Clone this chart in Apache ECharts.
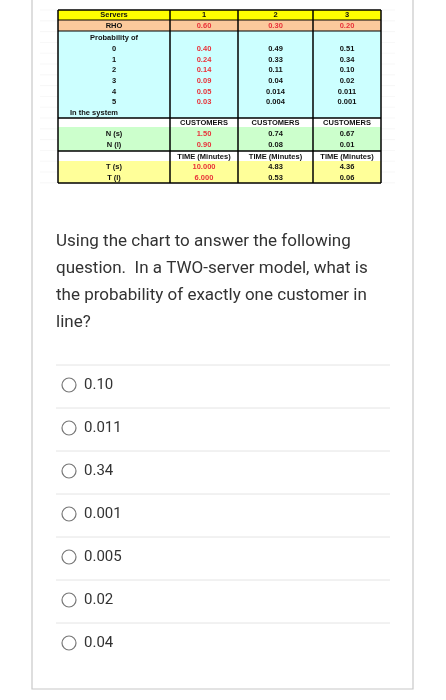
<!DOCTYPE html>
<html><head><meta charset="utf-8">
<script src="https://cdn.jsdelivr.net/npm/echarts@6/dist/echarts.min.js"></script>
<style>html,body{margin:0;padding:0;background:#fff}#c{width:446px;height:700px}</style>
</head><body><div id="c"></div>
<script>
const servers = ['1','2','3'];
const rho = ['0.60','0.30','0.20'];
const probLabels = ['0','1','2','3','4','5'];
const probs = [
  ['0.40','0.24','0.14','0.09','0.05','0.03'],
  ['0.49','0.33','0.11','0.04','0.014','0.004'],
  ['0.51','0.34','0.10','0.02','0.011','0.001']
];
const custLabels = ['N (s)','N (l)'];
const cust = [['1.50','0.90'],['0.74','0.08'],['0.67','0.01']];
const timeLabels = ['T (s)','T (l)'];
const times = [['10.000','6.000'],['4.83','0.53'],['4.36','0.06']];
const question = ['Using the chart to answer the following','question.  In a TWO-server model, what is','the probability of exactly one customer in','line?'];
const options = ['0.10','0.011','0.34','0.001','0.005','0.02','0.04'];

const chart = echarts.init(document.getElementById('c'));
const g = [];
const colX = [58,170,238,313,381];
const cx = i => (colX[i]+colX[i+1])/2;
const F = 'bold 7.5px "Liberation Sans", Arial, sans-serif';
const RED = '#e8333a';
function rect(x,y,w,h,fill){g.push({type:'rect',shape:{x,y,width:w,height:h},style:{fill},silent:true});}
function line(x1,y1,x2,y2,w,c){g.push({type:'line',shape:{x1,y1,x2,y2},style:{stroke:c||'#000',lineWidth:w||1},silent:true});}
function txt(x,y,t,color,font,align){g.push({type:'text',x,y,style:{text:t,fill:color||'#111',font:font||F,align:align||'center',verticalAlign:'middle'},silent:true});}

// card
g.push({type:'rect',shape:{x:32,y:-5,width:381,height:694},style:{fill:'#fff',stroke:'#c8c8c8',lineWidth:1.2},silent:true});
// faint grid
for(let y=10;y<190;y+=10.8) line(40,y,395,y,0.5,'#eee');
// backgrounds
rect(58,10,323,10,'#ffff00');
rect(58,20,323,11,'#fcc99c');
rect(58,31,323,87,'#ccffff');
rect(58,118,323,9,'#ffffff');
rect(58,127,323,24,'#ccffcc');
rect(58,151,323,10,'#ffffff');
rect(58,161,323,22,'#ffff99');
// borders
line(58,10,381,10,1.5); line(58,183,381,183,1.5);
line(58,20,381,20,1); line(58,31,381,31,1);
line(58,118,381,118,1.5); line(58,151,381,151,1.5);
colX.forEach(x=>line(x,10,x,183,1.5));
// header
txt(cx(0),15,'Servers');
servers.forEach((s,i)=>txt(cx(i+1),15,s));
txt(cx(0),25.5,'RHO');
rho.forEach((s,i)=>txt(cx(i+1),25.5,s,RED));
txt(cx(0),38,'Probability of');
const py=[49,59.5,70,81,91.5,102];
probLabels.forEach((l,j)=>txt(cx(0),py[j],l));
probs.forEach((col,i)=>col.forEach((v,j)=>txt(cx(i+1),py[j],v,i===0?RED:'#111')));
txt(cx(0)-20,112.5,'In the system');
servers.forEach((s,i)=>txt(cx(i+1),123,'CUSTOMERS'));
custLabels.forEach((l,j)=>txt(cx(0),134+j*11,l));
cust.forEach((col,i)=>col.forEach((v,j)=>txt(cx(i+1),134+j*10.5,v,i===0?RED:'#111')));
servers.forEach((s,i)=>txt(cx(i+1),156.5,'TIME (Minutes)'));
timeLabels.forEach((l,j)=>txt(cx(0),167+j*10.5,l));
times.forEach((col,i)=>col.forEach((v,j)=>txt(cx(i+1),167+j*10.5,v,i===0?RED:'#111')));
// question
question.forEach((q,k)=>txt(56,242+k*27,q,'#333','17px Roboto, "Noto Sans", sans-serif','left'));
// options
line(56,365,390,365,1,'#e4e4e4');
options.forEach((o,k)=>{
  const y=385+k*43;
  g.push({type:'circle',shape:{cx:69,cy:y,r:7},style:{fill:'#fff',stroke:'#777',lineWidth:1.2},silent:true});
  txt(84,y,o,'#333','15px Roboto, "Noto Sans", sans-serif','left');
  if(k<options.length-1) line(56,y+23,390,y+23,1,'#e4e4e4');
});
chart.setOption({animation:false,graphic:g});
</script></body></html>
